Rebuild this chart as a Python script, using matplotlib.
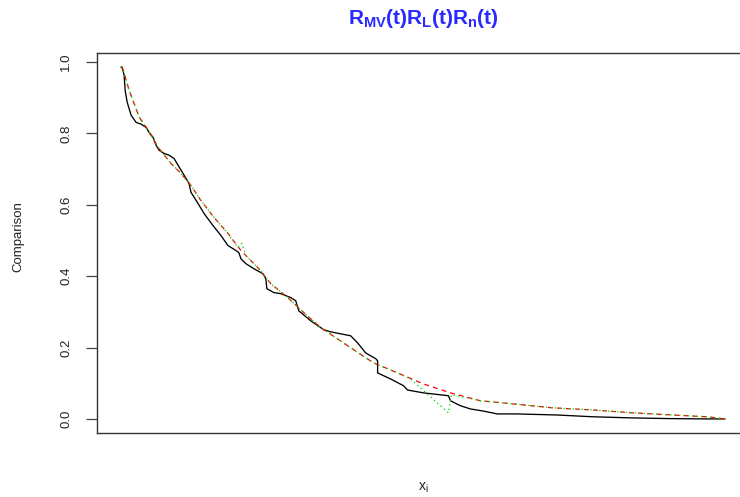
import matplotlib
matplotlib.use("Agg")
import matplotlib.pyplot as plt
import numpy as np

plt.rcParams['font.family'] = ['Liberation Sans', 'DejaVu Sans']
plt.rcParams['mathtext.fontset'] = 'custom'
plt.rcParams['mathtext.rm'] = 'Liberation Sans'
plt.rcParams['mathtext.it'] = 'Liberation Sans'
plt.rcParams['mathtext.bf'] = 'Liberation Sans:bold'
plt.rcParams['lines.scale_dashes'] = False

# ---- data ----
x_mv = [0.00, 0.01, 0.03, 0.04, 0.06, 0.10, 0.15, 0.20, 0.25, 0.28, 0.32, 0.35, 0.38,
        0.43, 0.48, 0.53, 0.57, 0.62, 0.65, 0.68, 0.70, 0.77, 0.83, 0.92, 1.00, 1.07,
        1.15, 1.18, 1.20, 1.25, 1.33, 1.42, 1.45, 1.46, 1.53, 1.60, 1.70, 1.75, 1.78,
        1.90, 2.03, 2.10, 2.30, 2.37, 2.45, 2.55, 2.57, 2.57, 2.70, 2.83, 2.87, 3.03,
        3.28, 3.30, 3.40, 3.50, 3.63, 3.77, 3.97, 4.37, 4.73, 5.10, 5.48, 5.87, 6.05]
y_mv = [0.986, 0.986, 0.963, 0.921, 0.888, 0.851, 0.831, 0.826, 0.817, 0.803, 0.789,
        0.767, 0.753, 0.744, 0.739, 0.730, 0.711, 0.688, 0.674, 0.660, 0.635, 0.604,
        0.576, 0.542, 0.514, 0.486, 0.472, 0.466, 0.449, 0.435, 0.421, 0.407, 0.393,
        0.365, 0.354, 0.351, 0.340, 0.331, 0.303, 0.275, 0.250, 0.244, 0.233, 0.213,
        0.185, 0.169, 0.163, 0.129, 0.112, 0.093, 0.081, 0.073, 0.065, 0.051, 0.037,
        0.028, 0.022, 0.014, 0.014, 0.011, 0.006, 0.003, 0.001, 0.000, 0.000]

x_l = [0.00, 0.02, 0.08, 0.18, 0.27, 0.37, 0.50, 0.60, 0.70, 0.80, 0.93, 1.07, 1.20,
       1.37, 1.50, 1.67, 1.83, 2.00, 2.27, 2.53, 2.77, 3.03, 3.30, 3.60, 3.93, 4.33,
       4.73, 5.13, 5.53, 5.87, 6.05]
y_l = [0.986, 0.978, 0.921, 0.846, 0.809, 0.761, 0.716, 0.688, 0.654, 0.612, 0.565,
       0.520, 0.472, 0.424, 0.379, 0.340, 0.298, 0.256, 0.205, 0.157, 0.129, 0.098,
       0.073, 0.051, 0.042, 0.031, 0.025, 0.017, 0.011, 0.006, 0.000]

x_n = [0.00, 0.02, 0.08, 0.18, 0.27, 0.37, 0.50, 0.60, 0.70, 0.80, 0.93, 1.07, 1.17,
       1.21, 1.25, 1.37, 1.50, 1.67, 1.83, 2.00, 2.27, 2.53, 2.77, 2.90, 3.28, 3.31,
       3.60, 3.93, 4.33, 4.73, 5.13, 5.53, 5.87, 6.05]
y_n = [0.986, 0.978, 0.921, 0.846, 0.809, 0.761, 0.716, 0.688, 0.654, 0.612, 0.565,
       0.520, 0.480, 0.492, 0.458, 0.424, 0.379, 0.340, 0.298, 0.256, 0.205, 0.157,
       0.129, 0.112, 0.017, 0.068, 0.051, 0.042, 0.031, 0.025, 0.017, 0.011, 0.006,
       0.000]

y_ticks = [0.0, 0.2, 0.4, 0.6, 0.8, 1.0]
y_tick_labels = ["0.0", "0.2", "0.4", "0.6", "0.8", "1.0"]

title_text = r'$\mathbf{R_{MV}(t)R_{L}(t)R_{n}(t)}$'
xlabel_text = r'$\mathregular{x_{i}}$'
ylabel_text = "Comparison"

# ---- figure ----
W, H = 740, 497
fig = plt.figure(figsize=(W / 100, H / 100), dpi=100)
ax = fig.add_axes([97 / W, 64 / H, (749 - 97) / W, (433 - 53) / H])

ax.plot(x_mv, y_mv, color='black', lw=0.95, solid_joinstyle='round')
ax.plot(x_l, y_l, color='#ff0000', lw=0.9, dashes=(3.5, 3.0))
ax.plot(x_n, y_n, color='#10d010', lw=0.9, dashes=(1.0, 2.2))

allx = np.concatenate([x_mv, x_l, x_n])
ally = np.concatenate([y_mv, y_l, y_n])
dx = 0.04 * (allx.max() - allx.min())
dy = 0.04 * (ally.max() - ally.min())
ax.set_xlim(allx.min() - dx, allx.max() + dx)
ax.set_ylim(ally.min() - dy, ally.max() + dy)

ax.set_xticks([])
ax.set_yticks(y_ticks)
ax.set_yticklabels(y_tick_labels, rotation=90, va='center', fontsize=9.5, color='#222222')
ax.tick_params(axis='y', length=8, width=0.9, pad=10, color='#444444')
for s in ax.spines.values():
    s.set_linewidth(1.0)
    s.set_color('#333333')

fig.text(423 / W, 1 - 18 / H, title_text, color='#2a2aff', fontsize=15,
         ha='center', va='center')
fig.text(423 / W, 1 - 488 / H, xlabel_text, color='#222222', fontsize=10,
         ha='center', va='center')
fig.text(18 / W, 1 - 237 / H, ylabel_text, color='#222222', fontsize=9.5,
         rotation=90, ha='center', va='center')

fig.savefig('out.png', dpi=100)
